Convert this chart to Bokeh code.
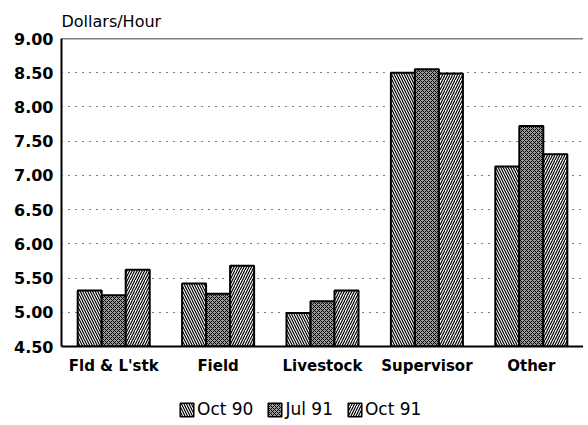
from bokeh.plotting import figure
from bokeh.models import ColumnDataSource, FactorRange, FixedTicker, Span, Legend, LegendItem, NumeralTickFormatter
from bokeh.layouts import column
from bokeh.transform import dodge
from bokeh.embed import file_html
from bokeh.resources import INLINE

categories = ["Fld & L'stk", "Field", "Livestock", "Supervisor", "Other"]
oct90 = [5.32, 5.42, 4.99, 8.50, 7.13]
jul91 = [5.25, 5.27, 5.16, 8.55, 7.72]
oct91 = [5.62, 5.68, 5.32, 8.49, 7.31]
series_names = ["Oct 90", "Jul 91", "Oct 91"]
y_ticks = [4.5, 5.0, 5.5, 6.0, 6.5, 7.0, 7.5, 8.0, 8.5, 9.0]

styles = [
    dict(fill_color="white", hatch_pattern="\\", hatch_scale=5, hatch_weight=1.2),
    dict(fill_color="#9a9a9a", hatch_pattern="x", hatch_scale=4, hatch_weight=1),
    dict(fill_color="white", hatch_pattern="/", hatch_scale=5, hatch_weight=1.2),
]

src = ColumnDataSource(dict(cat=categories, oct90=oct90, jul91=jul91, oct91=oct91))

p = figure(x_range=FactorRange(*categories, range_padding=0), y_range=(4.5, 9.0),
           frame_width=522, frame_height=308, output_backend="svg", toolbar_location=None,
           title="Dollars/Hour", min_border_left=61, min_border_right=0,
           min_border_top=38, min_border_bottom=40)

p.title.text_font = "DejaVu Sans"
p.title.text_font_style = "normal"
p.title.text_font_size = "16px"
p.title.text_color = "black"
p.title.align = "left"
p.title.standoff = 16

p.outline_line_color = None
p.xgrid.grid_line_color = None
p.ygrid.ticker = FixedTicker(ticks=y_ticks)
p.ygrid.grid_line_color = "black"
p.ygrid.grid_line_dash = "1 6"
p.ygrid.grid_line_width = 1.2

p.yaxis.ticker = FixedTicker(ticks=y_ticks)
p.yaxis.formatter = NumeralTickFormatter(format="0.00")
for ax in (p.xaxis[0], p.yaxis[0]):
    ax.axis_line_color = "black"
    ax.axis_line_width = 2
    ax.major_tick_line_color = None
    ax.minor_tick_line_color = None
    ax.major_tick_out = 0
    ax.major_tick_in = 0
    ax.minor_tick_out = 0
    ax.minor_tick_in = 0
    ax.major_label_text_font = "DejaVu Sans"
    ax.major_label_text_font_style = "bold"
    ax.major_label_text_color = "black"
p.yaxis.major_label_text_font_size = "16px"
p.xaxis.major_label_text_font_size = "15px"
p.yaxis.major_label_standoff = 8
p.xaxis.major_label_standoff = 10

top = Span(location=y_ticks[-1], dimension="width", line_color="black", line_width=1.5)
p.add_layout(top)

w = 0.23
cols = ["oct90", "jul91", "oct91"]
offsets = [-w, 0, w]
for c, off, st in zip(cols, offsets, styles):
    p.vbar(x=dodge("cat", off, range=p.x_range), top=c, bottom=4.5, width=w, source=src,
           line_color="black", line_width=2, hatch_color="black", **st)

# legend strip below the chart: same series, drawn outside its visible range,
# only their legend swatches show
p2 = figure(x_range=FactorRange(*categories, range_padding=0), y_range=(20, 21),
            frame_width=522, height=40, output_backend="svg", toolbar_location=None,
            min_border_left=61, min_border_right=0, min_border_top=0, min_border_bottom=0,
            x_axis_type=None, y_axis_type=None)
p2.outline_line_color = None
p2.xgrid.grid_line_color = None
p2.ygrid.grid_line_color = None
items = []
for name, c, off, st in zip(series_names, cols, offsets, styles):
    r = p2.vbar(x=dodge("cat", off, range=p2.x_range), top=c, bottom=4.5, width=w, source=src,
                line_color="black", line_width=1.5, hatch_color="black", **st)
    items.append(LegendItem(label=name, renderers=[r]))

legend = Legend(items=items, orientation="horizontal", location=(117, 7),
                border_line_color=None, background_fill_alpha=0,
                label_text_font="DejaVu Sans", label_text_font_size="17px",
                label_text_color="black", label_height=17,
                glyph_width=17, glyph_height=17, spacing=13, label_standoff=2,
                padding=0, margin=0)
p2.add_layout(legend, "center")

layout = column(p, p2, spacing=0)
open("out.html", "w").write(file_html(layout, INLINE))
